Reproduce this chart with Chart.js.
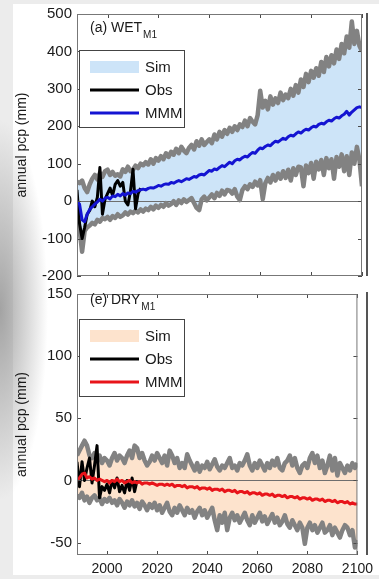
<!DOCTYPE html>
<html>
<head>
<meta charset="utf-8">
<script src="https://cdn.jsdelivr.net/npm/chart.js@4.4.1/dist/chart.umd.min.js"></script>
<style>
  body { margin: 0; width: 379px; height: 579px; background: #ececec; position: relative; overflow: hidden; }
  #sheet { position: absolute; left: 13px; top: 4px; width: 366px; height: 571px; background: #fff; }
  #shade { position: absolute; left: 0; top: 120px; width: 60px; height: 380px;
           background: radial-gradient(ellipse 48px 190px at 0 190px, rgba(150,150,150,0.85), rgba(255,255,255,0)); }
  canvas { position: absolute; left: 0; }
  #wet { top: 0; }
  #dry { top: 280px; }
  .stub { position: absolute; left: 366px; width: 0; border-left: 2px solid #555; }
</style>
</head>
<body>
<div id="sheet"></div>
<div id="shade"></div>
<div class="stub" style="top:13px;height:263px"></div>
<div class="stub" style="top:292px;height:263px"></div>
<canvas id="wet" width="379" height="290"></canvas>
<canvas id="dry" width="379" height="299"></canvas>
<script>
const years = [
  1988, 1989, 1990, 1991, 1992, 1993, 1994, 1995, 1996, 1997,
  1998, 1999, 2000, 2001, 2002, 2003, 2004, 2005, 2006, 2007,
  2008, 2009, 2010, 2011, 2012, 2013, 2014, 2015, 2016, 2017,
  2018, 2019, 2020, 2021, 2022, 2023, 2024, 2025, 2026, 2027,
  2028, 2029, 2030, 2031, 2032, 2033, 2034, 2035, 2036, 2037,
  2038, 2039, 2040, 2041, 2042, 2043, 2044, 2045, 2046, 2047,
  2048, 2049, 2050, 2051, 2052, 2053, 2054, 2055, 2056, 2057,
  2058, 2059, 2060, 2061, 2062, 2063, 2064, 2065, 2066, 2067,
  2068, 2069, 2070, 2071, 2072, 2073, 2074, 2075, 2076, 2077,
  2078, 2079, 2080, 2081, 2082, 2083, 2084, 2085, 2086, 2087,
  2088, 2089, 2090, 2091, 2092, 2093, 2094, 2095, 2096, 2097,
  2098, 2099, 2100
];
const xTicks = [2000, 2020, 2040, 2060, 2080, 2100];

// (a) WET M1
const wetTicks = [-200, -100, 0, 100, 200, 300, 400, 500];
const wetUpper = [
  52, 48, 55, 35, 24, 45, 60, 70, 58, 75,
  65, 80, 84, 70, 78, 68, 72, 66, 85, 78,
  92, 80, 84, 95, 88, 100, 96, 104, 98, 112,
  100, 115, 108, 120, 112, 128, 118, 132, 124, 140,
  128, 145, 135, 128, 142, 150, 138, 160, 148, 165,
  150, 158, 165, 155, 178, 165, 185, 172, 190, 180,
  196, 185, 200, 190, 205, 198, 215, 200, 222, 212,
  205, 230, 295, 250, 268, 245, 280, 258, 275, 262,
  290, 270, 285, 275, 300, 282, 310, 290, 325, 305,
  340, 318, 348, 330, 355, 335, 372, 345, 385, 360,
  390, 368, 405, 380, 420, 395, 440, 410, 480, 420,
  455, 415, 400
];
const wetLower = [
  -45, -75, -135, -80, -70, -65, -58, -62, -50, -55,
  -45, -48, -42, -50, -40, -45, -35, -42, -38, -30,
  -36, -28, -32, -25, -30, -22, -28, -20, -24, -15,
  -22, -12, -18, -10, -15, -5, -12, -8, 0, -10,
  2, -5, 5, -2, 3, 8, -5, -18, -24, 5,
  12, 2, 10, 18, 8, 22, 14, 28, 18, 30,
  28, 20, 32, 12, 3, 30, 40, 32, 45, 38,
  52, 42, 56, 5, 48, 62, 50, 70, 55, 74,
  60, 80, 62, 84, 55, 88, 70, 92, 90, 40,
  95, 75, 102, 60, 105, 85, 110, 70, 115, 88,
  112, 60, 118, 92, 125, 80, 120, 70, 130, 100,
  145, 110, 40
];
const wetMMM = [
  0, -8, -50, -55, -35, -22, -15, -8, -2, 5,
  0, 8, 10, 6, 14, 12, 18, 14, 20, 16,
  22, 20, 26, 24, 28, 30, 32, 30, 34, 36,
  35, 38, 42, 40, 44, 46, 45, 50, 48, 52,
  55, 52, 56, 60, 58, 62, 66, 64, 70, 72,
  70, 76, 82, 80, 86, 84, 90, 95, 92, 98,
  104, 100, 108, 112, 110, 116, 120, 118, 125, 130,
  128, 136, 142, 140, 146, 150, 148, 155, 160, 158,
  163, 168, 165, 172, 176, 174, 180, 185, 182, 188,
  192, 190, 196, 200, 198, 205, 208, 206, 212, 216,
  214, 220, 224, 222, 228, 232, 240, 230, 238, 244,
  250, 252, 250
];
const wetObs = [
  30, -60, -100, -70, -35, -25, 0, -15, 10, 90,
  -35, 5, 20, 35, 15, 45, 55, 40, 50, 0,
  -10, 25, 85, -20, 20, 35
];

// (e) DRY M1
const dryTicks = [-50, 0, 50, 100, 150];
const dryUpper = [
  20, 24, 28, 32, 28, 20, 18, 22, 16, 20,
  14, 18, 16, 12, 18, 22, 16, 20, 18, 14,
  20, 24, 18, 28, 26, 18, 22, 16, 12, 15,
  20, 16, 22, 18, 14, 20, 12, 24, 20, 14,
  18, 10, 14, 10, 21, 16, 12, 8, 14, 7,
  12, 10, 15, 9, 13, 17, 11, 8, 12, 10,
  14, 18, 10, 12, 8, 14, 12, 16, 21, 12,
  8, 14, 10, 16, 12, 8, 14, 10, 16, 12,
  18, 10, 8, 14, 16, 20, 12, 18, 10, 6,
  12, 14, 10, 18, 22, 14, 20, 10, 16, 6,
  12, 20, 8, 18, 4, 14, 10, 6, 12, 8,
  14, 10, 14
];
const dryLower = [
  -12, -14, -10, -16, -13, -18, -14, -12, -16, -14,
  -19, -15, -17, -14, -18, -16, -20, -15, -18, -22,
  -17, -20, -16, -21, -18, -23, -17, -20, -24, -19,
  -22, -18, -24, -20, -26, -22, -18, -25, -28, -22,
  -26, -20, -24, -28, -22, -26, -24, -30, -25, -22,
  -28, -24, -30, -26, -22, -32, -40, -28, -34, -26,
  -40, -30, -26, -32, -28, -34, -30, -26, -32, -36,
  -28, -34, -30, -26, -33, -29, -35, -31, -27, -34,
  -30, -36, -33, -28, -35, -38, -32, -36, -40, -34,
  -38, -51, -38, -34, -40, -36, -42, -38, -34, -42,
  -40, -36, -44, -38, -42, -46, -40, -36, -38, -44,
  -40, -54, -48
];
const dryMMM = [
  0, 2, 5, 6, 2, 3, 1, 2, 0, 1,
  0, -1, 0, -2, 0, -1, 1, -1, 0, -2,
  -1, 0, -2, -1, -2, -1, -3, -2, -2, -3,
  -2, -3, -4, -3, -3, -4, -3, -4, -3, -5,
  -4, -4, -5, -4, -6, -5, -5, -6, -5, -7,
  -6, -6, -7, -6, -8, -7, -7, -8, -7, -9,
  -8, -8, -9, -8, -10, -9, -9, -10, -9, -11,
  -10, -10, -11, -10, -12, -11, -11, -12, -11, -13,
  -12, -12, -13, -12, -14, -13, -13, -14, -13, -15,
  -14, -14, -15, -14, -16, -15, -15, -16, -15, -17,
  -16, -16, -17, -16, -18, -17, -17, -18, -17, -19,
  -18, -19, -19
];
const dryObs = [
  15, -5, 15, 0, 10, 18, -2, 12, 28, -14,
  -5, -8, -3, -10, 0, -6, 2, -9, -4, -10,
  0, -8, 2, -9, 0
];

const FONT = "'Liberation Sans', Arial, Helvetica, sans-serif";
const GRAY = "#828282";

// frame, inward ticks, zero line, panel label and legend box (matlab look)
const matlabDecor = {
  id: "matlabDecor",
  beforeDatasetsDraw(chart) {
    const { ctx, chartArea: a, scales: { y } } = chart;
    const y0 = Math.round(y.getPixelForValue(0)) + 0.5;
    ctx.save();
    ctx.strokeStyle = "#6e6e6e";
    ctx.lineWidth = 1;
    ctx.beginPath();
    ctx.moveTo(a.left, y0);
    ctx.lineTo(a.right, y0);
    ctx.stroke();
    ctx.restore();
  },
  afterDraw(chart, args, opts) {
    const { ctx, chartArea: a, scales: { x, y } } = chart;
    ctx.save();
    ctx.strokeStyle = "#4a4a4a";
    ctx.lineWidth = 1;
    ctx.beginPath();
    x.ticks.forEach((t) => {
      const px = Math.round(x.getPixelForValue(t.value)) + 0.5;
      ctx.moveTo(px, a.top); ctx.lineTo(px, a.top + 4);
      ctx.moveTo(px, a.bottom); ctx.lineTo(px, a.bottom - 4);
    });
    y.ticks.forEach((t) => {
      const py = Math.round(y.getPixelForValue(t.value)) + 0.5;
      ctx.moveTo(a.left, py); ctx.lineTo(a.left + 4, py);
      ctx.moveTo(a.right, py); ctx.lineTo(a.right - 4, py);
    });
    ctx.stroke();
    ctx.strokeStyle = "#777";
    ctx.strokeRect(a.left + 0.5, a.top + 0.5, a.width - 1, a.height - 1);

    // panel title with subscript
    ctx.fillStyle = "#1a1a1a";
    ctx.textBaseline = "middle";
    ctx.font = "14px " + FONT;
    const tx = a.left + 13, ty = a.top + opts.titleDy;
    ctx.fillText(opts.title, tx, ty);
    const w = ctx.measureText(opts.title).width;
    ctx.font = "10px " + FONT;
    ctx.fillText("M1", tx + w + 1, ty + 7);

    // legend
    const bx = a.left + 2, by = a.top + opts.legendDy, bw = 105, bh = 77;
    ctx.fillStyle = "#fff";
    ctx.fillRect(bx, by, bw, bh);
    ctx.strokeStyle = "#444";
    ctx.strokeRect(bx + 0.5, by + 0.5, bw, bh);
    const rows = [17, 40, 63];
    ctx.fillStyle = opts.fill;
    ctx.fillRect(bx + 11, by + rows[0] - 6, 49, 12);
    ctx.lineWidth = 3;
    ctx.strokeStyle = "#000";
    ctx.beginPath(); ctx.moveTo(bx + 11, by + rows[1]); ctx.lineTo(bx + 60, by + rows[1]); ctx.stroke();
    ctx.strokeStyle = opts.mmm;
    ctx.beginPath(); ctx.moveTo(bx + 11, by + rows[2]); ctx.lineTo(bx + 60, by + rows[2]); ctx.stroke();
    ctx.fillStyle = "#1a1a1a";
    ctx.font = "15px " + FONT;
    ["Sim", "Obs", "MMM"].forEach((s, i) => ctx.fillText(s, bx + 66, by + rows[i] + 1));
    ctx.restore();
  },
};

function makePanel(id, p) {
  new Chart(document.getElementById(id), {
    type: "line",
    data: {
      labels: years,
      datasets: [
        { label: "MMM", data: p.mmm, borderColor: p.mmmColor, borderWidth: 3, order: 0 },
        { label: "Obs", data: p.obs, borderColor: "#000", borderWidth: 3, order: 1 },
        { label: "Sim max", data: p.upper, borderColor: GRAY, borderWidth: 4.5, fill: "+1", backgroundColor: p.fill, order: 2 },
        { label: "Sim min", data: p.lower, borderColor: GRAY, borderWidth: 4.5, order: 3 },
      ],
    },
    options: {
      responsive: false,
      animation: false,
      layout: { padding: { top: p.padTop, right: 17, bottom: p.padBottom, left: 0 } },
      elements: { point: { radius: 0 }, line: { tension: 0, borderJoinStyle: "round" } },
      plugins: {
        legend: { display: false },
        tooltip: { enabled: false },
        filler: { drawTime: "beforeDatasetsDraw" },
        matlabDecor: { title: p.title, titleDy: p.titleDy, legendDy: p.legendDy, fill: p.fill, mmm: p.mmmColor },
      },
      scales: {
        x: {
          type: "linear",
          min: 1988,
          max: 2100,
          afterBuildTicks: (s) => { s.ticks = xTicks.map((v) => ({ value: v })); },
          afterFit: (s) => { s.height = p.xHeight; },
          grid: { display: false, drawTicks: false },
          border: { display: false },
          ticks: { display: p.showX, padding: 6, color: "#1a1a1a", font: { family: FONT, size: 14 }, callback: (v) => String(v) },
        },
        y: {
          min: p.min,
          max: p.max,
          afterBuildTicks: (s) => { s.ticks = p.ticks.map((v) => ({ value: v })); },
          afterFit: (s) => { s.width = 77; },
          grid: { display: false, drawTicks: false },
          border: { display: false },
          ticks: { padding: 5, color: "#1a1a1a", font: { family: FONT, size: 15 }, callback: (v) => String(v) },
          title: { display: true, text: "annual pcp (mm)", color: "#1a1a1a", padding: { top: 14, bottom: 0 }, font: { family: FONT, size: 14 } },
        },
      },
    },
    plugins: [matlabDecor],
  });
}

makePanel("wet", {
  title: "(a) WET", titleDy: 14, legendDy: 36,
  upper: wetUpper, lower: wetLower, mmm: wetMMM, obs: wetObs, ticks: wetTicks,
  min: -200, max: 500, fill: "#cde4f8", mmmColor: "#1414d2",
  padTop: 13, padBottom: 14, xHeight: 0, showX: false,
});
makePanel("dry", {
  title: "(e) DRY", titleDy: 6, legendDy: 25,
  upper: dryUpper, lower: dryLower, mmm: dryMMM, obs: dryObs, ticks: dryTicks,
  min: -60, max: 150, fill: "#fde3cd", mmmColor: "#e8141a",
  padTop: 12, padBottom: 0, xHeight: 24, showX: true,
});
</script>
</body>
</html>
